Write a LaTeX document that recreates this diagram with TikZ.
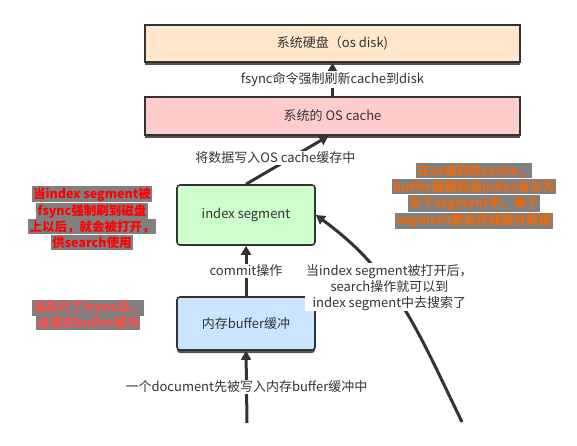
\documentclass[tikz,border=0pt]{standalone}
\usepackage{fontspec}
\setmainfont{Noto Sans CJK SC}
\usetikzlibrary{positioning, arrows.meta, shadows, calc}
\definecolor{diskpeach}{HTML}{FFE6CC}
\definecolor{cachepink}{HTML}{FFCCCC}
\definecolor{seggreen}{HTML}{CCFFCC}
\definecolor{bufblue}{HTML}{CCE5FF}
\definecolor{edgegray}{HTML}{333333}
\definecolor{notegray}{HTML}{808080}
\definecolor{notered}{HTML}{FF0000}
\definecolor{notepink}{HTML}{FF4D4D}
\definecolor{noteorange}{HTML}{EC6A0C}
\newcommand{\hlt}[1]{{\setlength{\fboxsep}{1.2pt}\colorbox{notegray}{#1}}}
\tikzset{
  store/.style = {rectangle, draw=edgegray, line width=2pt, minimum width=375pt,
                  minimum height=37pt, font=\fontsize{13}{15}\selectfont, text=edgegray,
                  drop shadow={shadow xshift=0pt, shadow yshift=-3pt, opacity=0.85, fill=edgegray}},
  seg/.style   = {rectangle, rounded corners=3pt, draw=edgegray, line width=1.6pt,
                  minimum width=138pt, minimum height=58pt,
                  font=\fontsize{13}{15}\selectfont, text=edgegray},
  lab/.style   = {fill=white, inner sep=1pt, align=center, text=edgegray,
                  font=\fontsize{13}{16}\selectfont},
  note/.style  = {align=center, inner sep=0pt, font=\bfseries\fontsize{12.5}{16}\selectfont},
  flow/.style  = {line width=3pt, draw=edgegray, -{Triangle[length=9pt, width=10pt]}},
}
\begin{document}
\begin{tikzpicture}[x=1pt, y=1pt]
\useasboundingbox (0,0) rectangle (577,445);

% Storage boxes
\node (disk) [store, fill=diskpeach] at (332.5,401.5) {系统硬盘（os disk)};
\node (cache) [store, fill=cachepink, minimum height=38pt] at (332.5,329) {系统的 OS cache};

% Segment and buffer
\node (idx) [seg, fill=seggreen, minimum height=60pt] at (246,230) {index segment};
\node (buf) [seg, fill=bufblue, minimum height=53pt,
  drop shadow={shadow xshift=0pt, shadow yshift=-3pt, opacity=0.85, fill=edgegray}]
  at (246,121.5) {内存buffer缓冲};

% Free ends at the bottom
\coordinate (doc) at (247,22);
\coordinate (reader) at (462,23);

% Flows
\draw [flow] (cache.north) -- node[lab] {fsync命令强制刷新cache到disk} (disk.south);
\draw [flow] (idx.north) -- node[lab, pos=0.55, xshift=-16pt] {将数据写入OS cache缓存中} ($(cache.south)+(-4,0)$);
\draw [flow] (buf.north) -- node[lab] {commit操作} (idx.south);
\draw [flow] (doc) -- node[lab] {一个document先被写入内存buffer缓冲中} (buf.south);
\draw [flow] (reader) to[out=116, in=-36] node[lab, pos=0.6]
  {当index segment被打开后，\\search操作就可以到\\index segment中去搜索了} (idx.east);

% Notes
\node (n1) [note, text=notered] at (92,227)
  {\hlt{当index segment被}\\\hlt{fsync强制刷到磁盘}\\\hlt{上以后，就会被打开，}\\\hlt{供search使用}};
\node (n2) [note, text=notepink] at (88,130)
  {\hlt{当执行了fsync后，}\\\hlt{会清空buffer缓冲}};
\node (n3) [note, text=noteorange] at (474,249)
  {\hlt{在os级别的cache，}\\\hlt{buffer被刷新后index会分为}\\\hlt{多个segment中，每个}\\\hlt{segment都会存储部分数据}};

\end{tikzpicture}
\end{document}
